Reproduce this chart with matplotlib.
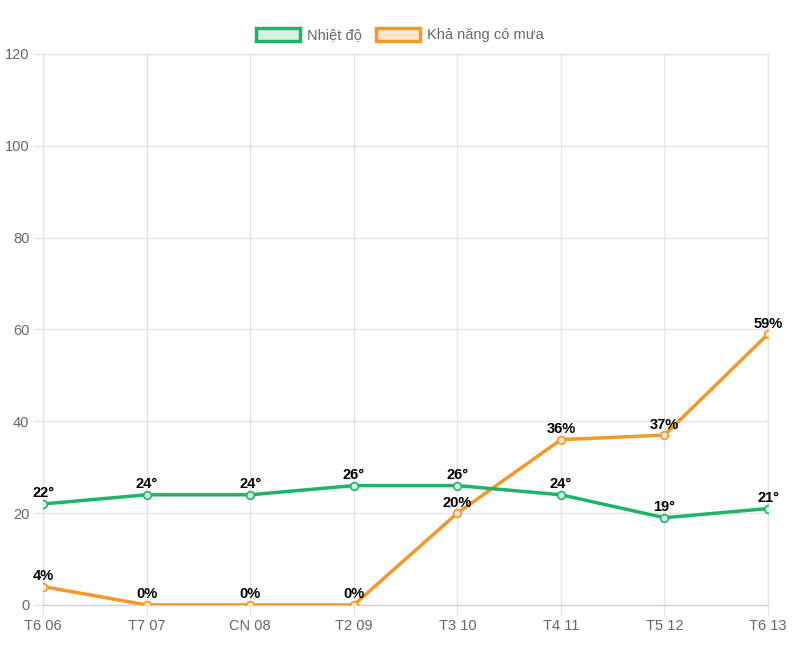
import matplotlib
matplotlib.use("Agg")
import matplotlib.pyplot as plt
from matplotlib.patches import Patch

# Dữ liệu dự báo 8 ngày
days = ["T6 06", "T7 07", "CN 08", "T2 09", "T3 10", "T4 11", "T5 12", "T6 13"]
temperature = [22, 24, 24, 26, 26, 24, 19, 21]
rain_chance = [4, 0, 0, 0, 20, 36, 37, 59]
y_ticks = [0, 20, 40, 60, 80, 100, 120]

GREEN = "#1fb46a"
ORANGE = "#f2992a"
GRID = "#e4e4e4"

plt.rcParams["font.family"] = ["Arial", "Liberation Sans", "DejaVu Sans"]

fig = plt.figure(figsize=(8, 6.64), dpi=100)
ax = fig.add_axes([0.054, 0.0889, 0.906, 0.8298])

x = list(range(len(days)))

ax.plot(x, temperature, color=GREEN, linewidth=2.5, marker="o", markersize=5.5,
        markerfacecolor="#d4f3e3", markeredgecolor=GREEN, markeredgewidth=1.2, zorder=4)
ax.plot(x, rain_chance, color=ORANGE, linewidth=2.5, marker="o", markersize=5.5,
        markerfacecolor="#fde8cf", markeredgecolor=ORANGE, markeredgewidth=1.2, zorder=3)

# Nhãn giá trị phía trên mỗi điểm
for xi, t in zip(x, temperature):
    ax.annotate(f"{t}°", (xi, t), xytext=(0, 2.5), textcoords="offset points",
                ha="center", va="bottom", fontsize=10.5, fontweight="bold", color="black", zorder=6)
for xi, r in zip(x, rain_chance):
    ax.annotate(f"{r}%", (xi, r), xytext=(0, 2.5), textcoords="offset points",
                ha="center", va="bottom", fontsize=10.5, fontweight="bold", color="black", zorder=6)

ax.set_xlim(0, len(days) - 1)
ax.set_ylim(0, 120)
ax.set_xticks(x)
ax.set_xticklabels(days)
ax.set_yticks(y_ticks)

ax.grid(True, color=GRID, linewidth=1)
ax.set_axisbelow(True)
for s in ax.spines.values():
    s.set_color(GRID)
    s.set_linewidth(1)
ax.spines["bottom"].set_color("#d0d0d0")
ax.tick_params(axis="both", colors=GRID, length=7, width=1, labelcolor="#666666", labelsize=10.5)
ax.tick_params(axis="x", pad=3)
ax.tick_params(axis="y", pad=3)

handles = [
    Patch(facecolor="#d4f3e3", edgecolor=GREEN, linewidth=2.5, label="Nhiệt độ"),
    Patch(facecolor="#fde8cf", edgecolor=ORANGE, linewidth=2.5, label="Khả năng có mưa"),
]
fig.legend(handles=handles, loc="center", bbox_to_anchor=(0.5, 0.947), ncol=2, frameon=False,
           fontsize=10.5, labelcolor="#666666", handlelength=3.0, handleheight=1.0,
           handletextpad=0.5, columnspacing=1.0)

fig.savefig("out.png", dpi=100, facecolor="white")
